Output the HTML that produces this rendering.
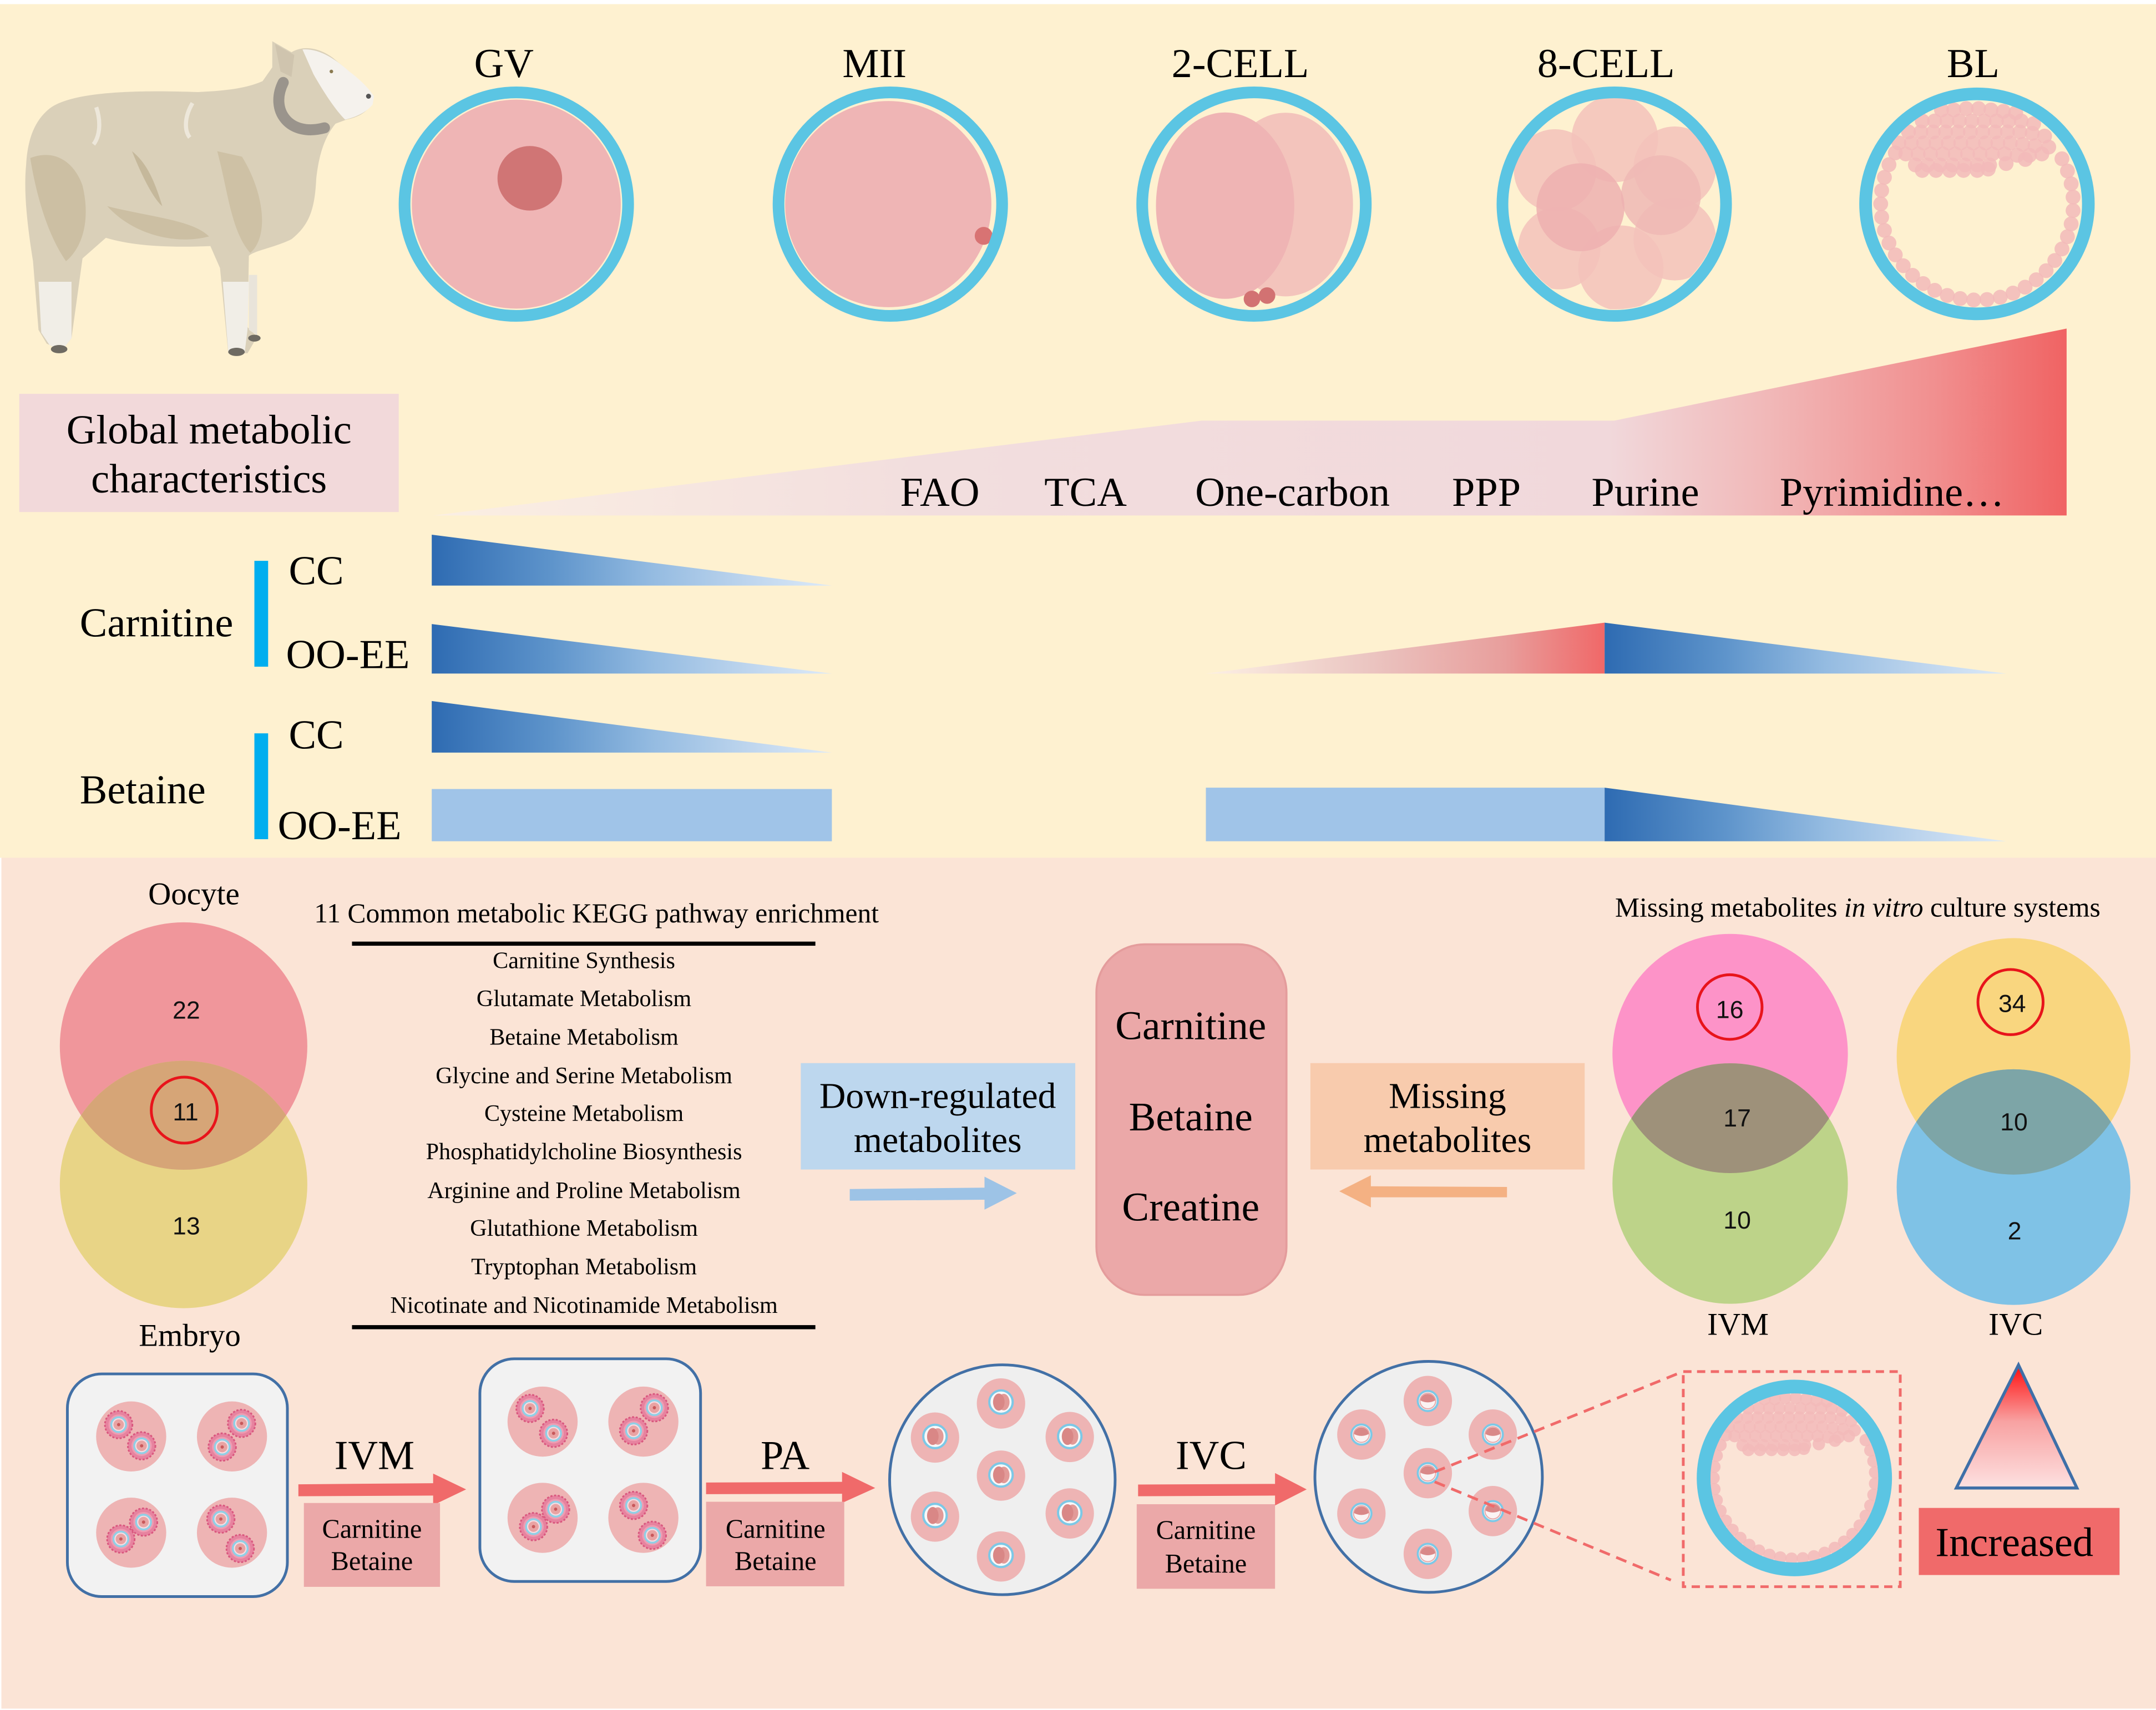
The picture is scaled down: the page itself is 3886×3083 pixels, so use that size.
<!DOCTYPE html>
<html><head><meta charset="utf-8"><style>html,body{margin:0;padding:0;background:#fff}svg{display:block}</style></head>
<body>
<svg xmlns="http://www.w3.org/2000/svg" xmlns:xlink="http://www.w3.org/1999/xlink" width="3886" height="3083" viewBox="0 0 1568 1244">
<defs>
 <linearGradient id="gBig" gradientUnits="userSpaceOnUse" x1="315" y1="0" x2="1503" y2="0">
  <stop offset="0" stop-color="#FBEFE3"/>
  <stop offset="0.3" stop-color="#F2DEDE"/>
  <stop offset="0.72" stop-color="#F1D8DB"/>
  <stop offset="0.82" stop-color="#F1B7B7"/>
  <stop offset="0.92" stop-color="#F18F8F"/>
  <stop offset="1" stop-color="#F06363"/>
 </linearGradient>
 <linearGradient id="gBlue1" gradientUnits="userSpaceOnUse" x1="314" y1="0" x2="605" y2="0">
  <stop offset="0" stop-color="#2E6BB2"/>
  <stop offset="0.3" stop-color="#5E94CB"/>
  <stop offset="0.55" stop-color="#94BBE1"/>
  <stop offset="0.8" stop-color="#BFD6EE"/>
  <stop offset="1" stop-color="#DDEAF8"/>
 </linearGradient>
 <linearGradient id="gBlue2" gradientUnits="userSpaceOnUse" x1="1167" y1="0" x2="1459" y2="0">
  <stop offset="0" stop-color="#2E6BB2"/>
  <stop offset="0.3" stop-color="#5E94CB"/>
  <stop offset="0.55" stop-color="#94BBE1"/>
  <stop offset="0.8" stop-color="#BFD6EE"/>
  <stop offset="1" stop-color="#DDEAF8"/>
 </linearGradient>
 <linearGradient id="gRed" gradientUnits="userSpaceOnUse" x1="877" y1="0" x2="1167" y2="0">
  <stop offset="0" stop-color="#FCF0E4"/>
  <stop offset="0.4" stop-color="#EBC6C2"/>
  <stop offset="0.75" stop-color="#E89E9C"/>
  <stop offset="1" stop-color="#F06868"/>
 </linearGradient>
 <linearGradient id="gTri" gradientUnits="userSpaceOnUse" x1="0" y1="995" x2="0" y2="1082">
  <stop offset="0" stop-color="#FF1515"/>
  <stop offset="0.45" stop-color="#F8A2A2"/>
  <stop offset="1" stop-color="#FDE0E0"/>
 </linearGradient>
 <clipPath id="cL"><circle cx="133.5" cy="761" r="90"/></clipPath>
 <clipPath id="cIVM"><ellipse cx="1258.3" cy="766.4" rx="85.6" ry="87"/></clipPath>
 <clipPath id="cIVC"><ellipse cx="1464.4" cy="768.5" rx="85" ry="86"/></clipPath>
 <clipPath id="c8"><circle cx="1174" cy="148" r="77"/></clipPath>
 <g id="coc">
  <circle r="10" fill="#E7839F" stroke="#D9577E" stroke-width="1.2" stroke-dasharray="1.5 1.2"/>
  <circle r="7.4" fill="#EE9DB2"/>
  <circle r="5.4" fill="#F5DDE3" stroke="#8FD0E6" stroke-width="1.4"/>
  <circle r="3.8" fill="#E9A3A3"/>
  <circle r="1.2" fill="#C8585A"/>
 </g>
 <g id="tc">
  <circle r="8.5" fill="#F8F8F8" stroke="#7CC8E6" stroke-width="1.6"/>
  <ellipse cx="2" cy="0" rx="4.2" ry="6" fill="#E29A98"/>
  <ellipse cx="-1.6" cy="0" rx="4.2" ry="6.2" fill="#D98786"/>
 </g>
 <g id="mb">
  <circle r="7.3" fill="#FBF3F3" stroke="#7CC8E6" stroke-width="1.5"/>
  <path d="M -5.6 -0.5 A 5.7 5.7 0 0 1 5.6 -0.5 Q 0 2.5 -5.6 -0.5 Z" fill="#D98888"/>
  <circle r="5.7" fill="none" stroke="#E7A9A9" stroke-width="0.8"/>
 </g>
 <g id="blcells" fill="#F2BABA" fill-opacity="0.85">
  <circle cx="1499.6" cy="115.5" r="5.4"/><circle cx="1503.6" cy="124.4" r="5.4"/><circle cx="1506.3" cy="133.7" r="5.4"/><circle cx="1507.7" cy="143.4" r="5.4"/><circle cx="1507.7" cy="153.2" r="5.4"/><circle cx="1506.3" cy="162.9" r="5.4"/><circle cx="1503.6" cy="172.2" r="5.4"/><circle cx="1499.6" cy="181.1" r="5.4"/><circle cx="1494.4" cy="189.5" r="5.4"/><circle cx="1488.1" cy="196.9" r="5.4"/><circle cx="1480.9" cy="203.5" r="5.4"/><circle cx="1472.8" cy="208.9" r="5.4"/><circle cx="1464" cy="213.2" r="5.4"/><circle cx="1454.7" cy="216.2" r="5.4"/><circle cx="1445.1" cy="217.9" r="5.4"/><circle cx="1435.4" cy="218.2" r="5.4"/><circle cx="1425.6" cy="217.2" r="5.4"/><circle cx="1416.2" cy="214.9" r="5.4"/><circle cx="1407.1" cy="211.2" r="5.4"/><circle cx="1398.7" cy="206.3" r="5.4"/><circle cx="1391" cy="200.3" r="5.4"/><circle cx="1384.2" cy="193.3" r="5.4"/><circle cx="1378.4" cy="185.4" r="5.4"/><circle cx="1373.8" cy="176.8" r="5.4"/><circle cx="1370.5" cy="167.6" r="5.4"/><circle cx="1368.5" cy="158" r="5.4"/><circle cx="1367.8" cy="148.3" r="5.4"/><circle cx="1368.5" cy="138.6" r="5.4"/><circle cx="1370.5" cy="129" r="5.4"/><circle cx="1373.8" cy="119.8" r="5.4"/><circle cx="1378.4" cy="111.2" r="5.4"/>
  <circle cx="1412" cy="80" r="5.4"/><circle cx="1421" cy="80" r="5.4"/><circle cx="1430" cy="79" r="5.4"/><circle cx="1439" cy="79" r="5.4"/><circle cx="1448" cy="80" r="5.4"/><circle cx="1457" cy="81" r="5.4"/><circle cx="1466" cy="82" r="5.4"/>
  <circle cx="1398" cy="88" r="5.4"/><circle cx="1407" cy="88" r="5.4"/><circle cx="1416" cy="88" r="5.4"/><circle cx="1425" cy="88" r="5.4"/><circle cx="1434" cy="88" r="5.4"/><circle cx="1443" cy="88" r="5.4"/><circle cx="1452" cy="88" r="5.4"/><circle cx="1461" cy="88" r="5.4"/><circle cx="1470" cy="88" r="5.4"/><circle cx="1479" cy="90" r="5.4"/>
  <circle cx="1388" cy="96" r="5.4"/><circle cx="1397" cy="96" r="5.4"/><circle cx="1406" cy="96" r="5.4"/><circle cx="1415" cy="96" r="5.4"/><circle cx="1424" cy="96" r="5.4"/><circle cx="1433" cy="96" r="5.4"/><circle cx="1442" cy="96" r="5.4"/><circle cx="1451" cy="96" r="5.4"/><circle cx="1460" cy="96" r="5.4"/><circle cx="1469" cy="96" r="5.4"/><circle cx="1478" cy="97" r="5.4"/><circle cx="1487" cy="99" r="5.4"/>
  <circle cx="1381" cy="104" r="5.4"/><circle cx="1390" cy="104" r="5.4"/><circle cx="1399" cy="104" r="5.4"/><circle cx="1408" cy="104" r="5.4"/><circle cx="1417" cy="104" r="5.4"/><circle cx="1426" cy="104" r="5.4"/><circle cx="1435" cy="104" r="5.4"/><circle cx="1444" cy="104" r="5.4"/><circle cx="1453" cy="104" r="5.4"/><circle cx="1462" cy="104" r="5.4"/><circle cx="1471" cy="105" r="5.4"/><circle cx="1480" cy="106" r="5.4"/><circle cx="1490" cy="107" r="5.4"/>
  <circle cx="1386" cy="112" r="5.4"/><circle cx="1395" cy="112" r="5.4"/><circle cx="1404" cy="112" r="5.4"/><circle cx="1413" cy="112" r="5.4"/><circle cx="1422" cy="112" r="5.4"/><circle cx="1431" cy="112" r="5.4"/><circle cx="1440" cy="112" r="5.4"/><circle cx="1449" cy="112" r="5.4"/><circle cx="1458" cy="112" r="5.4"/><circle cx="1467" cy="113" r="5.4"/><circle cx="1476" cy="113" r="5.4"/><circle cx="1485" cy="112" r="5.4"/>
  <circle cx="1393" cy="120" r="5.4"/><circle cx="1402" cy="120" r="5.4"/><circle cx="1411" cy="120" r="5.4"/><circle cx="1420" cy="120" r="5.4"/><circle cx="1429" cy="120" r="5.4"/><circle cx="1438" cy="120" r="5.4"/><circle cx="1447" cy="120" r="5.4"/><circle cx="1459" cy="119" r="5.4"/><circle cx="1473" cy="116" r="5.4"/>
  <circle cx="1398" cy="124" r="5.4"/><circle cx="1408" cy="124" r="5.4"/><circle cx="1418" cy="124" r="5.4"/><circle cx="1428" cy="124" r="5.4"/><circle cx="1438" cy="124" r="5.4"/><circle cx="1446" cy="123" r="5.4"/>
 </g>
</defs>

<!-- backgrounds -->
<rect x="0" y="0" width="1568" height="1244" fill="#ffffff"/>
<rect x="0" y="3" width="1568" height="621" fill="#FEF1D0"/>
<rect x="1" y="624" width="1567" height="619" fill="#FBE4D6"/>

<!-- sheep -->
<g>
 <path d="M 36 79 C 50 68, 90 65, 144 67 C 165 66, 180 64, 191 59 L 198 49 L 198 30 L 212 38 C 222 32, 234 36, 242 42 C 254 52, 264 60, 271 69 L 271 75 C 267 81, 262 85, 252 87 L 244 90 C 236 100, 232 112, 230 130 C 229 150, 226 163, 212 174 C 200 180, 186 182, 181 186 L 180 238 L 187 245 L 180 257 L 166 257 L 160 195 L 153 179 C 130 180, 100 180, 77 173 L 60 188 L 52 246 L 45 255 L 34 250 L 28 240 L 24 190 C 20 165, 17 140, 19 120 C 20 100, 26 87, 36 79 Z" fill="#DAD0B9"/>
 <path d="M 22 115 C 26 140, 34 170, 48 190 C 60 180, 66 160, 60 135 C 54 118, 40 108, 22 115 Z" fill="#C9BC9F" opacity="0.85"/>
 <path d="M 78 150 C 98 172, 130 178, 152 172 C 140 160, 110 158, 78 150 Z" fill="#C9BC9F" opacity="0.85"/>
 <path d="M 158 110 C 166 140, 168 168, 182 184 C 196 172, 192 140, 176 114 Z" fill="#C9BC9F" opacity="0.75"/>
 <path d="M 96 110 C 104 130, 112 145, 118 150 C 112 130, 106 118, 96 110 Z" fill="#BFB193" opacity="0.8"/>
 <path d="M 70 78 C 74 90, 72 100, 68 105" fill="none" stroke="#EDE7DA" stroke-width="3"/>
 <path d="M 140 75 C 134 85, 134 95, 138 100" fill="none" stroke="#EDE7DA" stroke-width="3"/>
 <path d="M 28 205 L 52 205 L 52 246 L 45 255 L 36 251 L 30 242 Z" fill="#F1EEE7"/>
 <path d="M 162 205 L 181 205 L 180 240 L 178 256 L 166 256 Z" fill="#F1EEE7"/>
 <path d="M 181 200 L 187 200 L 187 244 L 181 240 Z" fill="#E9E4DA"/>
 <path d="M 200 32 L 214 40 L 212 56 L 204 52 Z" fill="#CFC4AE"/>
 <path d="M 220 36 C 232 35, 244 43, 254 52 C 262 58, 268 64, 272 70 L 271 76 C 267 81, 260 85, 251 87 C 244 80, 236 68, 228 54 Z" fill="#F5F2ED"/>
 <path d="M 206 60 C 196 80, 210 100, 236 93" fill="none" stroke="#9A948C" stroke-width="8" stroke-linecap="round"/>
 <ellipse cx="43" cy="254" rx="6" ry="3" fill="#6E6A62"/>
 <ellipse cx="172" cy="256" rx="6" ry="3" fill="#6E6A62"/>
 <ellipse cx="185" cy="246" rx="4.5" ry="2.5" fill="#6E6A62"/>
 <circle cx="268" cy="70" r="1.8" fill="#555"/>
 <circle cx="241" cy="52" r="1.3" fill="#8A7A50"/>
</g>

<!-- stage labels -->
<g font-family="'Liberation Serif', serif" font-size="30" fill="#000" text-anchor="middle">
 <text x="366.5" y="56">GV</text>
 <text x="636" y="56">MII</text>
 <text x="902" y="56">2-CELL</text>
 <text x="1168" y="56">8-CELL</text>
 <text x="1435" y="56">BL</text>
</g>

<!-- GV -->
<circle cx="375.5" cy="148.5" r="76" fill="#EFB5B5"/>
<circle cx="385.3" cy="129.7" r="23.5" fill="#D07575"/>
<circle cx="375.5" cy="148.5" r="81.3" fill="none" stroke="#5BC5E3" stroke-width="8.5"/>
<!-- MII -->
<circle cx="646" cy="148.5" r="75" fill="#EFB5B5"/>
<circle cx="715.4" cy="171.6" r="6.5" fill="#D87373"/>
<circle cx="647.5" cy="148.5" r="81.3" fill="none" stroke="#5BC5E3" stroke-width="8.5"/>
<!-- 2-cell -->
<ellipse cx="935" cy="148.8" rx="49" ry="66.8" fill="#F3C4BC"/>
<ellipse cx="891" cy="149.6" rx="50.3" ry="67.8" fill="#EFB4B4"/>
<circle cx="910.5" cy="217.5" r="6" fill="#D27272"/>
<circle cx="921.5" cy="215" r="6" fill="#D27272"/>
<circle cx="912" cy="148.5" r="81.3" fill="none" stroke="#5BC5E3" stroke-width="8.5"/>
<!-- 8-cell -->
<g clip-path="url(#c8)" fill="#F3C2BB" fill-opacity="0.85">
 <circle cx="1174.4" cy="101" r="31.5"/>
 <circle cx="1131" cy="124" r="30"/>
 <circle cx="1218" cy="122" r="30"/>
 <circle cx="1218" cy="174" r="30"/>
 <circle cx="1134" cy="180.5" r="30"/>
 <circle cx="1178.8" cy="195" r="31"/>
 <circle cx="1208" cy="142" r="29" fill="#EFB8B5"/>
 <circle cx="1149.4" cy="150.8" r="32" fill="#EDB0B0"/>
</g>
<circle cx="1174" cy="148.5" r="81.3" fill="none" stroke="#5BC5E3" stroke-width="8.5"/>
<!-- BL -->
<use xlink:href="#blcells" href="#blcells"/>
<ellipse cx="1437.8" cy="148.3" rx="81" ry="80" fill="none" stroke="#5BC5E3" stroke-width="9.2"/>

<!-- Global metabolic box -->
<rect x="14" y="286.5" width="276" height="86" fill="#F2D9DA"/>
<g font-family="'Liberation Serif', serif" font-size="30" fill="#000" text-anchor="middle">
 <text x="152" y="322.5">Global metabolic</text>
 <text x="152" y="358.3">characteristics</text>
</g>

<!-- big wedge -->
<polygon points="315,375 874,306 1174,306 1503,239 1503,375" fill="url(#gBig)"/>
<g font-family="'Liberation Serif', serif" font-size="30" fill="#000" text-anchor="middle">
 <text x="683.5" y="368">FAO</text>
 <text x="789.5" y="368">TCA</text>
 <text x="940" y="368">One-carbon</text>
 <text x="1081" y="368">PPP</text>
 <text x="1196.6" y="368">Purine</text>
 <text x="1376" y="368">Pyrimidine…</text>
</g>

<!-- Carnitine / Betaine rows -->
<rect x="185" y="408" width="10" height="77" fill="#00AEEF"/>
<rect x="185" y="533.5" width="10" height="77" fill="#00AEEF"/>
<g font-family="'Liberation Serif', serif" font-size="30" fill="#000">
 <text x="58" y="463">Carnitine</text>
 <text x="210" y="425">CC</text>
 <text x="208" y="486">OO-EE</text>
 <text x="58" y="584.5">Betaine</text>
 <text x="210" y="544.6">CC</text>
 <text x="202" y="610.5">OO-EE</text>
</g>
<polygon points="314,389 605,426 314,426" fill="url(#gBlue1)"/>
<polygon points="314,454 605,490 314,490" fill="url(#gBlue1)"/>
<polygon points="314,510 605,547.5 314,547.5" fill="url(#gBlue1)"/>
<rect x="314" y="574" width="291" height="38" fill="#A0C4E8"/>
<polygon points="877,490 1167,453 1167,490" fill="url(#gRed)"/>
<polygon points="1167,453 1459,490 1167,490" fill="url(#gBlue2)"/>
<rect x="877" y="573" width="290" height="39" fill="#A0C4E8"/>
<polygon points="1167,573 1459,612 1167,612" fill="url(#gBlue2)"/>

<!-- Left Venn -->
<text x="141" y="658" font-family="'Liberation Serif', serif" font-size="23" text-anchor="middle">Oocyte</text>
<circle cx="133.5" cy="761" r="90" fill="#F0969B"/>
<circle cx="133.5" cy="861.7" r="90" fill="#E8D486"/>
<circle cx="133.5" cy="861.7" r="90" fill="#D6A577" clip-path="url(#cL)"/>
<g font-family="'Liberation Sans', sans-serif" font-size="18" text-anchor="middle" fill="#111">
 <text x="135.5" y="741">22</text>
 <text x="135" y="815">11</text>
 <text x="135.5" y="898">13</text>
</g>
<circle cx="134" cy="807.6" r="24" fill="none" stroke="#E8141B" stroke-width="2"/>
<text x="138" y="979" font-family="'Liberation Serif', serif" font-size="23" text-anchor="middle">Embryo</text>

<!-- KEGG list -->
<text x="228.5" y="671" font-family="'Liberation Serif', serif" font-size="20">11 Common metabolic KEGG pathway enrichment</text>
<rect x="256" y="685" width="337" height="3" fill="#000"/>
<rect x="256" y="964" width="337" height="3" fill="#000"/>
<g font-family="'Liberation Serif', serif" font-size="17" text-anchor="middle" fill="#000">
 <text x="424.7" y="704.3">Carnitine Synthesis</text>
 <text x="424.7" y="732">Glutamate Metabolism</text>
 <text x="424.7" y="760">Betaine Metabolism</text>
 <text x="424.7" y="788">Glycine and Serine Metabolism</text>
 <text x="424.7" y="815.5">Cysteine Metabolism</text>
 <text x="424.7" y="843.3">Phosphatidylcholine Biosynthesis</text>
 <text x="424.7" y="871.5">Arginine and Proline Metabolism</text>
 <text x="424.7" y="899">Glutathione Metabolism</text>
 <text x="424.7" y="927">Tryptophan Metabolism</text>
 <text x="424.7" y="955">Nicotinate and Nicotinamide Metabolism</text>
</g>

<!-- Down-regulated / central / missing -->
<rect x="582.4" y="773.4" width="199.6" height="77.4" fill="#BDD7EE"/>
<g font-family="'Liberation Serif', serif" font-size="26.5" text-anchor="middle" fill="#000">
 <text x="682" y="806">Down-regulated</text>
 <text x="682" y="838">metabolites</text>
</g>
<polygon points="618,865 716,864 716,856 739.5,868 716,880 716,872.8 618,873.5" fill="#9DC3E6"/>
<rect x="797.4" y="687" width="138.2" height="255" rx="35" ry="35" fill="#EBA8A8" stroke="#E49C9C" stroke-width="1.5"/>
<g font-family="'Liberation Serif', serif" font-size="29.5" text-anchor="middle" fill="#000">
 <text x="866" y="756">Carnitine</text>
 <text x="866" y="822.4">Betaine</text>
 <text x="866" y="888">Creatine</text>
</g>
<rect x="953" y="773.4" width="199.5" height="77.4" fill="#F8CBAD"/>
<g font-family="'Liberation Serif', serif" font-size="26.5" text-anchor="middle" fill="#000">
 <text x="1052.7" y="806">Missing</text>
 <text x="1052.7" y="838">metabolites</text>
</g>
<polygon points="974,866.6 997,855 997,863 1096,863.5 1096,871 997,871 997,878.4" fill="#F4B183"/>

<!-- Right Venns -->
<text x="1174.6" y="666.7" font-family="'Liberation Serif', serif" font-size="20" fill="#000">Missing metabolites <tspan font-style="italic">in vitro</tspan> culture systems</text>
<ellipse cx="1258.3" cy="766.4" rx="85.6" ry="87" fill="#FD93C8"/>
<ellipse cx="1258.3" cy="861" rx="85.6" ry="87.5" fill="#BDD389"/>
<ellipse cx="1258.3" cy="861" rx="85.6" ry="87.5" fill="#9E917A" clip-path="url(#cIVM)"/>
<ellipse cx="1464.4" cy="768.5" rx="85" ry="86" fill="#F9D67F"/>
<ellipse cx="1464.4" cy="863.6" rx="85" ry="85.7" fill="#7FC2E6"/>
<ellipse cx="1464.4" cy="863.6" rx="85" ry="85.7" fill="#7DA5A7" clip-path="url(#cIVC)"/>
<g font-family="'Liberation Sans', sans-serif" font-size="18" text-anchor="middle" fill="#111">
 <text x="1258" y="740.6">16</text>
 <text x="1263.4" y="819.6">17</text>
 <text x="1263.4" y="893.7">10</text>
 <text x="1463.4" y="736.2">34</text>
 <text x="1464.7" y="822.4">10</text>
 <text x="1465.2" y="901.6">2</text>
</g>
<circle cx="1258" cy="732.6" r="23.5" fill="none" stroke="#E8141B" stroke-width="2"/>
<circle cx="1462.2" cy="729" r="23.7" fill="none" stroke="#E8141B" stroke-width="2"/>
<g font-family="'Liberation Serif', serif" font-size="23" text-anchor="middle" fill="#000">
 <text x="1264" y="971">IVM</text>
 <text x="1466" y="971">IVC</text>
</g>

<!-- Bottom row: dish 1 -->
<rect x="49" y="999.5" width="160" height="162" rx="25" ry="25" fill="#F2F2F2" stroke="#4270A6" stroke-width="2"/>
<g fill="#EEB4B4">
 <circle cx="95.4" cy="1045" r="25.5"/><circle cx="168.7" cy="1045" r="25.5"/>
 <circle cx="95.4" cy="1115" r="25.5"/><circle cx="168.7" cy="1115" r="25.5"/>
</g>
<use xlink:href="#coc" href="#coc" x="86.3" y="1036.4"/>
<use xlink:href="#coc" href="#coc" x="103" y="1051.8"/>
<use xlink:href="#coc" href="#coc" x="175.7" y="1035.5"/>
<use xlink:href="#coc" href="#coc" x="161.6" y="1052.7"/>
<use xlink:href="#coc" href="#coc" x="104.4" y="1107.3"/>
<use xlink:href="#coc" href="#coc" x="87.9" y="1119.6"/>
<use xlink:href="#coc" href="#coc" x="160.6" y="1105.1"/>
<use xlink:href="#coc" href="#coc" x="174.7" y="1126.5"/>

<!-- IVM arrow -->
<text x="272.3" y="1068.6" font-family="'Liberation Serif', serif" font-size="30" text-anchor="middle">IVM</text>
<polygon points="217,1079.8 315,1079 315,1072 339,1083.5 315,1095 315,1088 217,1088.5" fill="#F06A6A"/>
<rect x="221" y="1093.4" width="99" height="61" fill="#EBA8A8"/>
<g font-family="'Liberation Serif', serif" font-size="19.5" text-anchor="middle" fill="#000">
 <text x="270.5" y="1118.7">Carnitine</text>
 <text x="270.5" y="1142.2">Betaine</text>
</g>

<!-- dish 2 -->
<rect x="349" y="988.5" width="160.5" height="162" rx="25" ry="25" fill="#F2F2F2" stroke="#4270A6" stroke-width="2"/>
<g fill="#EEB4B4">
 <circle cx="394.6" cy="1034.2" r="25.5"/><circle cx="467.9" cy="1034.2" r="25.5"/>
 <circle cx="394.6" cy="1104.2" r="25.5"/><circle cx="467.9" cy="1104.2" r="25.5"/>
</g>
<use xlink:href="#coc" href="#coc" x="385.5" y="1024.6"/>
<use xlink:href="#coc" href="#coc" x="402.6" y="1042.7"/>
<use xlink:href="#coc" href="#coc" x="475.9" y="1024.1"/>
<use xlink:href="#coc" href="#coc" x="460.8" y="1040.9"/>
<use xlink:href="#coc" href="#coc" x="404.1" y="1097.9"/>
<use xlink:href="#coc" href="#coc" x="388" y="1110.6"/>
<use xlink:href="#coc" href="#coc" x="460.8" y="1095.2"/>
<use xlink:href="#coc" href="#coc" x="474.4" y="1116.9"/>

<!-- PA arrow -->
<text x="571" y="1068.6" font-family="'Liberation Serif', serif" font-size="30" text-anchor="middle">PA</text>
<polygon points="513.5,1078.5 612.4,1078 612.4,1070.8 636.5,1082.5 612.4,1093.4 612.4,1086.7 513.5,1087" fill="#F06A6A"/>
<rect x="513.5" y="1092.5" width="100.5" height="61.5" fill="#EBA8A8"/>
<g font-family="'Liberation Serif', serif" font-size="19.5" text-anchor="middle" fill="#000">
 <text x="564" y="1118.7">Carnitine</text>
 <text x="564" y="1142.2">Betaine</text>
</g>

<!-- dish 3 -->
<ellipse cx="729" cy="1076.5" rx="82" ry="83.6" fill="#EFEFEF" stroke="#4270A6" stroke-width="2"/>
<g fill="#EEB4B4">
 <ellipse cx="728" cy="1021" rx="17.6" ry="18.3"/>
 <ellipse cx="680" cy="1045.8" rx="17.6" ry="18.3"/>
 <ellipse cx="778" cy="1045.4" rx="17.6" ry="18.3"/>
 <ellipse cx="728" cy="1073.5" rx="17.6" ry="18.3"/>
 <ellipse cx="680" cy="1103.3" rx="17.6" ry="18.3"/>
 <ellipse cx="778" cy="1101" rx="17.6" ry="18.3"/>
 <ellipse cx="728" cy="1132.3" rx="17.6" ry="18.3"/>
</g>
<use xlink:href="#tc" href="#tc" x="728" y="1020"/>
<use xlink:href="#tc" href="#tc" x="680" y="1045"/>
<use xlink:href="#tc" href="#tc" x="778" y="1045"/>
<use xlink:href="#tc" href="#tc" x="728" y="1073"/>
<use xlink:href="#tc" href="#tc" x="680" y="1102.5"/>
<use xlink:href="#tc" href="#tc" x="778" y="1100.5"/>
<use xlink:href="#tc" href="#tc" x="728" y="1131.5"/>

<!-- IVC arrow -->
<text x="880.8" y="1068.6" font-family="'Liberation Serif', serif" font-size="30" text-anchor="middle">IVC</text>
<polygon points="827.7,1080 927.3,1079.5 927.3,1071.6 950.3,1083.5 927.3,1095.2 927.3,1088 827.7,1088.5" fill="#F06A6A"/>
<rect x="826.7" y="1094.3" width="100.6" height="61.5" fill="#EBA8A8"/>
<g font-family="'Liberation Serif', serif" font-size="19.5" text-anchor="middle" fill="#000">
 <text x="877" y="1119.6">Carnitine</text>
 <text x="877" y="1144">Betaine</text>
</g>

<!-- dish 4 -->
<ellipse cx="1039" cy="1074.4" rx="82.7" ry="84" fill="#EFEFEF" stroke="#4270A6" stroke-width="2"/>
<g fill="#EEB4B4">
 <ellipse cx="1038.4" cy="1019.2" rx="17.6" ry="18.3"/>
 <ellipse cx="990.1" cy="1043.6" rx="17.6" ry="18.3"/>
 <ellipse cx="1085.7" cy="1043.6" rx="17.6" ry="18.3"/>
 <ellipse cx="1038.4" cy="1071.7" rx="17.6" ry="18.3"/>
 <ellipse cx="990.1" cy="1101.1" rx="17.6" ry="18.3"/>
 <ellipse cx="1085.7" cy="1099.3" rx="17.6" ry="18.3"/>
 <ellipse cx="1038.4" cy="1130.4" rx="17.6" ry="18.3"/>
</g>
<use xlink:href="#mb" href="#mb" x="1038.4" y="1019.2"/>
<use xlink:href="#mb" href="#mb" x="990.1" y="1043.6"/>
<use xlink:href="#mb" href="#mb" x="1085.7" y="1043.6"/>
<use xlink:href="#mb" href="#mb" x="1038.4" y="1071.7"/>
<use xlink:href="#mb" href="#mb" x="990.1" y="1101.1"/>
<use xlink:href="#mb" href="#mb" x="1085.7" y="1099.3"/>
<use xlink:href="#mb" href="#mb" x="1038.4" y="1130.4"/>

<!-- zoom lines and box -->
<line x1="1043.4" y1="1070.8" x2="1220.2" y2="999.3" stroke="#F06A6A" stroke-width="2" stroke-dasharray="8 5"/>
<line x1="1043.4" y1="1078" x2="1215.2" y2="1149.5" stroke="#F06A6A" stroke-width="2" stroke-dasharray="8 5"/>
<rect x="1224.2" y="997.8" width="157.8" height="156.5" fill="none" stroke="#F06A6A" stroke-width="2" stroke-dasharray="6 4"/>
<use xlink:href="#blcells" href="#blcells" transform="translate(1305 1075.2) scale(0.84) translate(-1437.8 -148.3)"/>
<ellipse cx="1305" cy="1075.2" rx="66" ry="66.5" fill="none" stroke="#5BC5E3" stroke-width="10"/>

<!-- triangle & Increased -->
<polygon points="1468,993 1422.8,1082.5 1510.5,1082.5" fill="url(#gTri)" stroke="#3E6FA8" stroke-width="2.2" stroke-linejoin="miter"/>
<rect x="1395.5" y="1097" width="146" height="48.8" fill="#F06A6A"/>
<text x="1465" y="1132" font-family="'Liberation Serif', serif" font-size="30" text-anchor="middle" fill="#000">Increased</text>
</svg>
</body></html>
